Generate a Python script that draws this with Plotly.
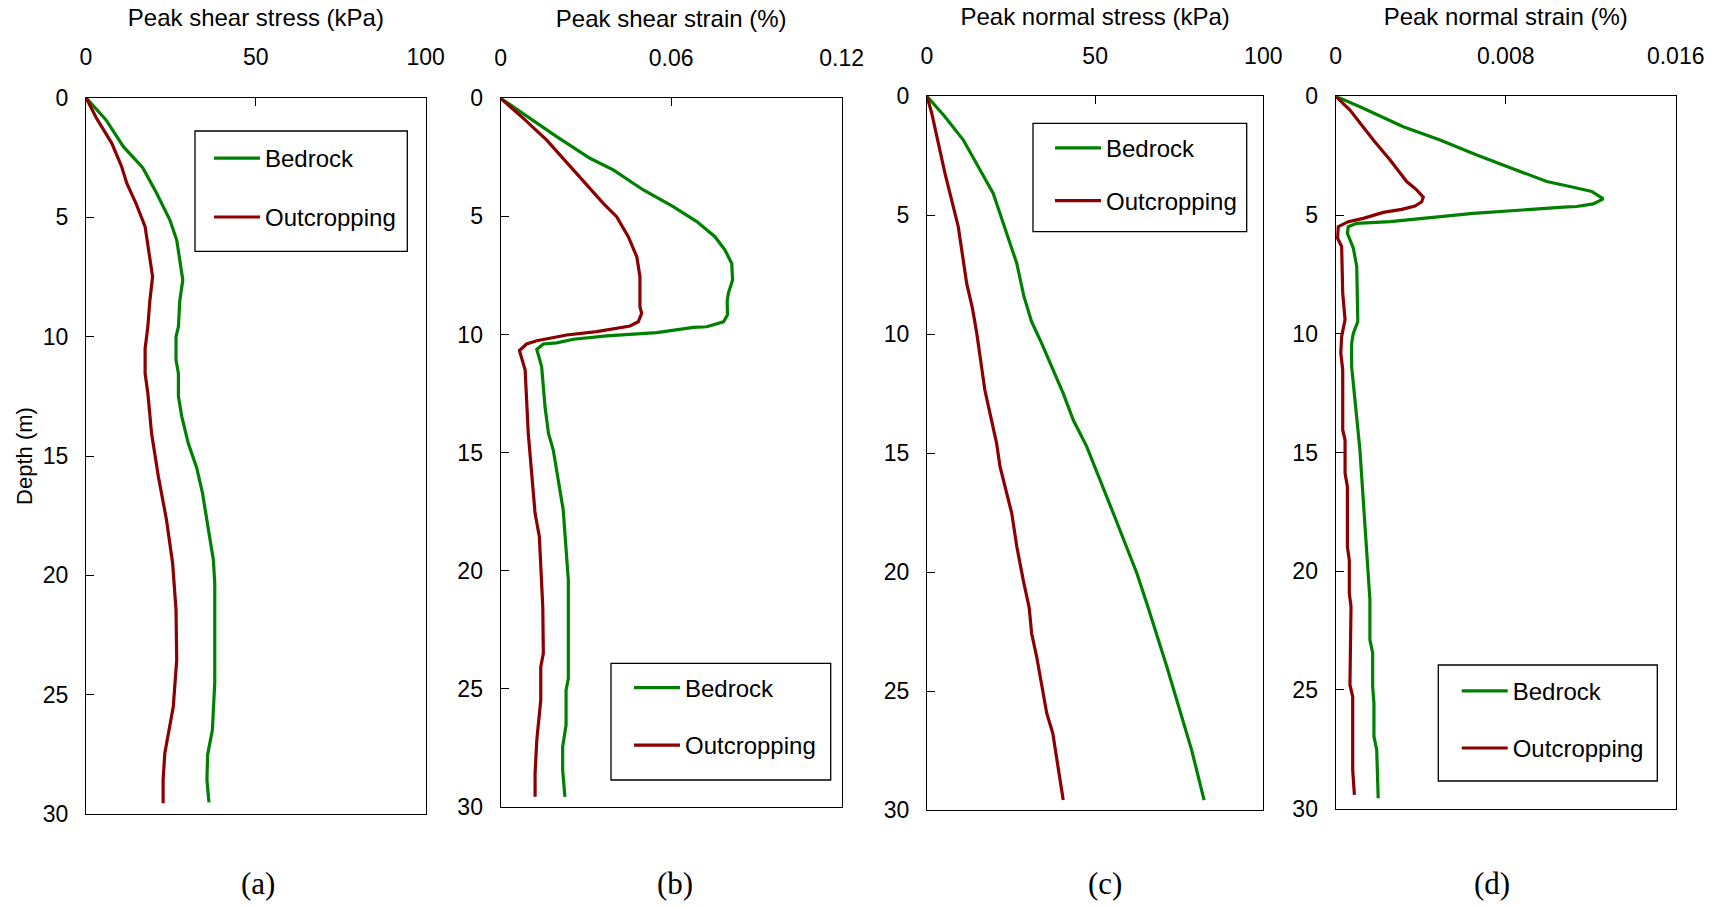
import plotly.graph_objects as go

# ---------------- data ----------------
# (a) Peak shear stress (kPa)
depth_a_bed = [0, 0.93, 2.05, 2.93, 4.0, 5.12, 5.96, 7.63, 8.5, 9.59, 10.0, 10.98, 11.54, 12.5, 13.35,
               14.47, 15.5, 16.56, 17.96, 19.35, 20.33, 21.7, 24.5, 26.47, 27.5, 28.56, 29.5]
stress_a_bed = [0, 5.9, 11.0, 16.7, 20.8, 24.7, 26.7, 28.5, 27.6, 27.2, 26.5, 26.5, 27.2, 27.2, 28.2,
                30.1, 32.6, 34.3, 35.9, 37.5, 37.9, 37.9, 37.9, 37.2, 35.8, 35.6, 36.2]
depth_a_out = [0, 0.86, 1.91, 2.89, 3.58, 4.42, 5.4, 6.51, 7.49, 8.5, 9.59, 10.5, 11.54, 12.37, 14.05,
               15.86, 17.68, 19.49, 21.44, 23.54, 25.49, 27.44, 28.56, 29.54]
stress_a_out = [0, 3.1, 7.6, 10.5, 12.0, 14.7, 17.4, 18.6, 19.6, 18.8, 18.2, 17.4, 17.4, 18.2, 19.3,
                21.3, 23.7, 25.5, 26.5, 26.7, 25.7, 23.2, 22.7, 22.7]

# (b) Peak shear strain (%)
depth_b_bed = [0, 0.85, 1.62, 2.54, 3.03, 3.88, 4.59, 5.22, 5.86, 6.42, 6.99, 7.69, 8.26, 8.6, 9.17,
               9.46, 9.67, 9.7, 9.92, 10.06, 10.2, 10.35, 10.4, 10.63, 11.36, 13.06, 14.18, 14.89,
               17.43, 20.39, 24.56, 25.05, 26.53, 27.45, 28.44, 29.57]
strain_b_bed = [0, 0.0103, 0.0197, 0.0314, 0.0396, 0.0502, 0.0607, 0.069, 0.0754, 0.0789, 0.0813,
                0.0816, 0.0801, 0.0797, 0.0798, 0.0784, 0.0725, 0.0678, 0.0549, 0.0373, 0.0256,
                0.0197, 0.015, 0.0127, 0.0144, 0.0156, 0.0168, 0.0185, 0.022, 0.0238, 0.0238,
                0.023, 0.023, 0.0218, 0.0218, 0.0226]
depth_b_out = [0, 0.85, 1.77, 3.32, 4.45, 5.01, 5.86, 6.71, 7.55, 8.82, 9.1, 9.46, 9.64, 9.88, 10.02,
               10.26, 10.4, 10.68, 11.5, 14.18, 17.57, 18.56, 21.52, 23.5, 24.06, 25.47, 27.17,
               28.58, 29.57]
strain_b_out = [0, 0.008, 0.0162, 0.0279, 0.0361, 0.0408, 0.0449, 0.0479, 0.049, 0.049, 0.0496,
                0.0484, 0.0455, 0.0338, 0.0232, 0.0127, 0.0091, 0.0066, 0.0086, 0.0097, 0.0121,
                0.0136, 0.0148, 0.015, 0.0141, 0.0141, 0.0127, 0.0121, 0.0121]

# (c) Peak normal stress (kPa)
depth_c_bed = [0, 0.86, 1.84, 2.82, 4.08, 5.34, 7.02, 8.4, 9.47, 10.38, 12.48, 13.6, 14.72, 17.52,
               20.04, 21.5, 23.96, 27.47, 29.57]
stress_c_bed = [0, 5.35, 10.8, 14.8, 19.7, 22.7, 26.7, 28.8, 31.1, 34.1, 40.5, 43.5, 47.5, 55.4,
                62.4, 65.8, 71.3, 78.7, 82.4]
depth_c_out = [0, 0.71, 3.24, 5.48, 7.86, 8.9, 9.96, 12.34, 14.58, 15.55, 17.52, 18.92, 20.32,
               21.5, 22.56, 23.54, 25.92, 26.76, 29.57]
stress_c_out = [0, 1.4, 5.35, 9.3, 11.8, 13.5, 14.8, 17.2, 20.7, 21.7, 25.2, 26.7, 28.6, 30.4,
                31.1, 32.6, 35.6, 37.4, 40.5]

# (d) Peak normal strain (%)
depth_d_bed = [0, 0.44, 1.28, 1.84, 2.47, 2.96, 3.59, 3.83, 4.01, 4.32, 4.53, 4.64, 4.67, 4.93,
               5.28, 5.35, 5.49, 5.77, 6.4, 7.17, 9.28, 9.49, 9.98, 10.4, 11.39, 14.89, 21.2,
               22.89, 23.45, 24.86, 25.56, 26.96, 27.52, 29.56]
strain_d_bed = [0, 0.00114, 0.00318, 0.00491, 0.00664, 0.00805, 0.00993, 0.01118, 0.01205,
                0.01259, 0.01212, 0.01134, 0.01071, 0.00647, 0.00256, 0.00099, 0.00059, 0.00055,
                0.00083, 0.00099, 0.00106, 0.00104, 0.00083, 0.00075, 0.00075, 0.00114, 0.00161,
                0.00161, 0.00174, 0.00174, 0.0018, 0.0018, 0.00193, 0.002]
depth_d_out = [0, 0.58, 1.84, 2.68, 3.59, 3.94, 4.25, 4.44, 4.62, 4.76, 4.89, 5.14, 5.28, 5.49,
               5.98, 6.33, 8.29, 9.41, 10.11, 10.81, 11.52, 14.05, 14.47, 15.87, 16.44, 18.97,
               19.53, 20.93, 21.49, 24.79, 25.28, 28.37, 29.42]
strain_d_out = [0, 0.00067, 0.00177, 0.00256, 0.00334, 0.00381, 0.00412, 0.00405, 0.00373,
                0.00311, 0.00224, 0.0013, 0.00059, 0.00012, 0.00009, 0.00028, 0.00033, 0.00044,
                0.00028, 0.00024, 0.00033, 0.00033, 0.00044, 0.00044, 0.00055, 0.00055, 0.00064,
                0.00064, 0.00072, 0.00067, 0.0008, 0.0008, 0.00088]

series_names = ["Bedrock", "Outcropping"]
x_titles = ["Peak shear stress (kPa)", "Peak shear strain (%)",
            "Peak normal stress (kPa)", "Peak normal strain (%)"]
x_tickvals = [[0, 50, 100], [0, 0.06, 0.12], [0, 50, 100], [0, 0.008, 0.016]]
x_ticktext = [["0", "50", "100"], ["0", "0.06", "0.12"], ["0", "50", "100"], ["0", "0.008", "0.016"]]
y_tickvals = [0, 5, 10, 15, 20, 25, 30]
panel_labels = ["(a)", "(b)", "(c)", "(d)"]

# ---------------- styling / layout ----------------
W, H = 1728, 907
GREEN = "#008000"
RED = "#8B0000"
FONT = "Liberation Sans, Arial, sans-serif"

def px(x):
    return x / W

def py(y):
    return 1 - y / H

# plot boxes in pixels (left, top, right, bottom)
boxes = [(86, 97.7, 425.7, 814.3), (500.7, 98.3, 841.7, 807), (927, 96.3, 1263.3, 810.3),
         (1335.7, 96.3, 1675.7, 808.7)]
# legend boxes (left, top, right, bottom), first line start x, first line y, row spacing
leg_boxes = [(195, 131, 407.3, 251.3), (611, 663.3, 830.7, 780), (1033, 123.3, 1246.7, 231.7),
             (1438.3, 665, 1657.3, 781)]
leg_line = [(214, 158, 58.7), (634, 687.5, 57.3), (1055, 147.7, 52.6), (1461.7, 690.7, 57)]
label_x = [258.3, 675, 1105, 1491.7]

data = [
    (depth_a_bed, stress_a_bed, depth_a_out, stress_a_out),
    (depth_b_bed, strain_b_bed, depth_b_out, strain_b_out),
    (depth_c_bed, stress_c_bed, depth_c_out, stress_c_out),
    (depth_d_bed, strain_d_bed, depth_d_out, strain_d_out),
]

fig = go.Figure()
layout = dict(width=W, height=H, margin=dict(l=0, r=0, t=0, b=0, autoexpand=False),
              template="none",
              plot_bgcolor="white", paper_bgcolor="white",
              font=dict(family=FONT, size=22, color="black"), showlegend=True)
shapes = []
annotations = []

for i in range(4):
    n = "" if i == 0 else str(i + 1)
    xa, ya = "x" + n, "y" + n
    lg = "legend" + n
    d_bed, v_bed, d_out, v_out = data[i]
    for nm, dd, vv, col in [(series_names[0], d_bed, v_bed, GREEN),
                            (series_names[1], d_out, v_out, RED)]:
        fig.add_trace(go.Scatter(x=vv, y=dd, mode="lines", name=nm,
                                 line=dict(color=col, width=3.2),
                                 xaxis=xa, yaxis=ya, legend=lg,
                                 legendgroup=f"{i}_{nm}"))
    l, t, r, b = boxes[i]
    layout["xaxis" + n] = dict(
        domain=[px(l), px(r)], anchor=ya, side="top", automargin=False,
        range=[x_tickvals[i][0], x_tickvals[i][-1]],
        tickvals=x_tickvals[i], ticktext=x_ticktext[i],
        ticks="inside", ticklen=8, tickwidth=1.3, tickcolor="black",
        showline=True, linecolor="black", linewidth=1.3, mirror=True,
        showgrid=False, zeroline=False, ticklabelstandoff=22,
        tickfont=dict(size=23, family=FONT),
        title=dict(text=x_titles[i], standoff=10, font=dict(size=24, family=FONT)))
    ydict = dict(
        domain=[py(b), py(t)], anchor=xa, range=[30, 0], automargin=False,
        tickvals=y_tickvals,
        ticks="inside", ticklen=8, tickwidth=1.3, tickcolor="black",
        showline=True, linecolor="black", linewidth=1.3, mirror=True,
        showgrid=False, zeroline=False, ticklabelstandoff=12,
        tickfont=dict(size=23, family=FONT))
    if i == 0:
        ydict["title"] = dict(text="Depth (m)", standoff=3, font=dict(size=22, family=FONT))
    layout["yaxis" + n] = ydict

    lx, ly, gap = leg_line[i]
    layout[lg] = dict(x=px(lx - 5), y=py(ly - 22), xanchor="left", yanchor="top",
                      bgcolor="rgba(0,0,0,0)", borderwidth=0, itemwidth=46,
                      traceorder="grouped", tracegroupgap=gap - 34,
                      font=dict(size=24, family=FONT, color="black"))
    bl, bt, br, bb = leg_boxes[i]
    shapes.append(dict(type="rect", xref="paper", yref="paper", x0=px(bl), x1=px(br),
                       y0=py(bb), y1=py(bt), line=dict(color="black", width=1.3),
                       fillcolor="rgba(0,0,0,0)", layer="above"))
    annotations.append(dict(text=panel_labels[i], xref="paper", yref="paper",
                            x=px(label_x[i]), y=py(883), xanchor="center", yanchor="middle",
                            showarrow=False,
                            font=dict(size=31, family="Liberation Serif, DejaVu Serif, serif",
                                      color="black")))

layout["shapes"] = shapes
layout["annotations"] = annotations
fig.update_layout(**layout)
fig.write_html("out.html")
